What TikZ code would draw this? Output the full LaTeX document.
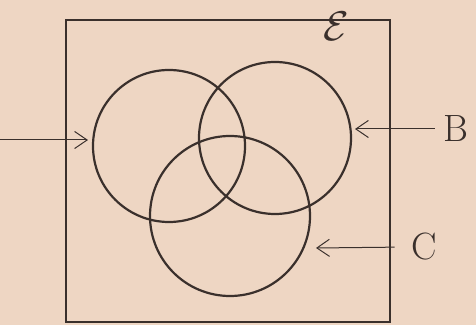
\documentclass[tikz,border=0pt]{standalone}
\usepackage{amsmath}
\usepackage{xcolor}
\usepackage{tikz}
\usetikzlibrary{positioning,arrows.meta}
\definecolor{paper}{HTML}{EED6C3}
\definecolor{ink}{HTML}{3A302C}
\tikzset{
  setcircle/.style={
    draw=ink, line width=1.1pt, circle, inner sep=0pt},
  frame/.style={draw=ink, line width=1.1pt},
  pointer/.style={draw=ink, line width=0.5pt, -{Straight Barb[length=2.2mm,width=3mm]}},
  setlabel/.style={font=\LARGE, text=ink, inner sep=1pt, scale=1.1},
}

\begin{document}
\begin{tikzpicture}[x=0.5pt, y=-0.5pt]

  \fill[paper] (0,0) rectangle (476,325);
  \useasboundingbox (0,0) rectangle (476,325);

  \draw[frame] (66,20) rectangle (390,322);
  \node[text=ink, font=\huge, inner sep=0pt] (univ) at (336,26) {$\mathcal{E}$};

  \node[setcircle, minimum size=76pt] (setA) at (169,146) {};
  \node[setcircle, minimum size=76pt] (setB) at (275,138) {};
  \node[setcircle, minimum size=80pt] (setC) at (230,216) {};

  \node[setlabel] (labB) at (456,129) {B};
  \node[setlabel] (labC) at (424,247) {C};

  \coordinate (startA) at (0,140);
  \coordinate (tipA) at (88,140);
  \coordinate (tipB) at (355,129);
  \coordinate (tipC) at (316,248);

  \draw[pointer] (startA) -- (tipA);
  \draw[pointer, shorten <=3pt] (labB.west) -- (tipB);
  \draw[pointer, shorten <=7pt] (labC.west) -- (tipC);

\end{tikzpicture}
\end{document}
